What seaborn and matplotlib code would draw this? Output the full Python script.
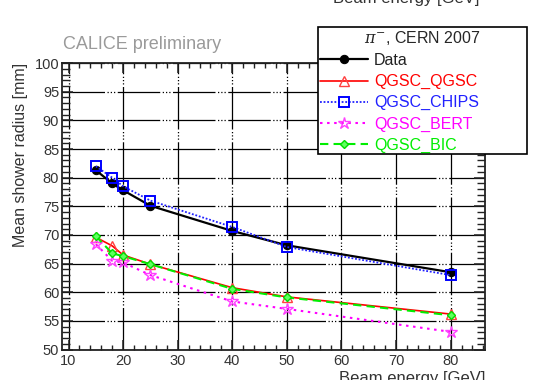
import matplotlib
matplotlib.use("Agg")
import matplotlib.pyplot as plt
from matplotlib.ticker import MultipleLocator
import numpy as np
import pandas as pd
import seaborn as sns

# Beam energies [GeV] and mean shower radius [mm] per sample
energy = [15, 18, 20, 25, 40, 50, 80]
data_radius = [81.3, 79.0, 77.8, 75.1, 70.7, 68.2, 63.5]
qgsc_qgsc = [69.6, 68.1, 66.5, 64.9, 60.8, 59.2, 56.2]
qgsc_chips = [82.0, 80.0, 78.5, 76.0, 71.4, 67.9, 63.0]
qgsc_bert = [68.4, 65.5, 65.2, 63.0, 58.4, 57.1, 53.1]
qgsc_bic = [69.8, 66.8, 66.3, 64.9, 60.6, 59.1, 56.0]

series_names = ["Data", "QGSC_QGSC", "QGSC_CHIPS", "QGSC_BERT", "QGSC_BIC"]
series_values = [data_radius, qgsc_qgsc, qgsc_chips, qgsc_bert, qgsc_bic]

df = pd.DataFrame({
    "energy": np.tile(energy, len(series_names)),
    "radius": np.concatenate(series_values),
    "sample": np.repeat(series_names, len(energy)),
})

sns.set_style("ticks")
plt.rcParams["font.family"] = ["Liberation Sans", "DejaVu Sans"]
plt.rcParams["mathtext.fontset"] = "dejavuserif"

styles = {
    "Data": dict(color="black", linestyle="-", lw=1.6, marker="o", ms=6,
                 mfc="black", mec="black"),
    "QGSC_QGSC": dict(color="#ff0000", linestyle="-", lw=1.2, marker="^", ms=7,
                      mfc="none", mec="#ff4040", mew=1.0),
    "QGSC_CHIPS": dict(color="#2020ff", linestyle=(0, (1, 1)), lw=1.3, marker="s",
                       ms=7, mfc="none", mec="#0000ff", mew=1.4),
    "QGSC_BERT": dict(color="#ff00ff", linestyle=(0, (1.2, 2.2)), lw=1.5, marker="*",
                      ms=9, mfc="none", mec="#ff40ff", mew=1.0),
    "QGSC_BIC": dict(color="#00ee00", linestyle=(0, (4, 2.5)), lw=1.5, marker="D",
                     ms=4.5, mfc="#60ff60", mec="#00dd00", mew=1.0),
}

fig = plt.figure(figsize=(5.33, 3.8), dpi=100)
ax = fig.add_axes([0.1163, 0.080, 0.7937, 0.754])

for name in series_names:
    sub = df[df["sample"] == name]
    sns.lineplot(data=sub, x="energy", y="radius", ax=ax, label=name,
                 estimator=None, sort=False, **styles[name])

ax.set_xlim(8.8, 86.3)
ax.set_ylim(50, 100)
ax.xaxis.set_major_locator(MultipleLocator(10))
ax.xaxis.set_minor_locator(MultipleLocator(2))
ax.yaxis.set_major_locator(MultipleLocator(5))
ax.yaxis.set_minor_locator(MultipleLocator(1))

grid_style = (0, (34, 2, 1, 1.6, 1, 1.6, 1, 2))
ax.grid(True, which="major", color="black", lw=0.9, linestyle=grid_style)
ax.set_axisbelow(True)

for side in ["left", "right", "top", "bottom"]:
    ax.spines[side].set_visible(True)
    ax.spines[side].set_linewidth(1.3)
    ax.spines[side].set_color("#222222")

ax.tick_params(axis="both", which="both", direction="in", top=True, right=True,
               colors="#222222", labelcolor="#333333", labelsize=10.5)
ax.tick_params(axis="x", which="major", length=7, width=1.1, pad=3)
ax.tick_params(axis="x", which="minor", length=3.5, width=1.0)
ax.tick_params(axis="y", which="major", length=8, width=1.1, pad=2)
ax.tick_params(axis="y", which="minor", length=5.5, width=1.0)

ax.set_xlabel("Beam energy [GeV]", loc="right", fontsize=12, color="#333333",
              labelpad=2)
ax.set_ylabel("Mean shower radius [mm]", loc="top", fontsize=11.5, color="#333333",
              labelpad=5)

fig.text(0.118, 0.884, "CALICE preliminary", fontsize=13, color="#9a9a9a",
         ha="left", va="center")
fig.text(0.90, 1.005, "Beam energy [GeV]", fontsize=12, color="#333333",
         ha="right", va="center")

handles, labels = ax.get_legend_handles_labels()
ax.get_legend().remove()
leg = fig.legend(handles, labels, loc="upper left", mode="expand",
                 bbox_to_anchor=(0.597, 0.605, 0.392, 0.323),
                 bbox_transform=fig.transFigure,
                 title=r"$\pi^{-}$, CERN 2007", title_fontsize=11.5, fontsize=11.5,
                 labelcolor="linecolor", handlelength=3.0, handletextpad=0.4,
                 labelspacing=0.38, borderpad=0.1, borderaxespad=0,
                 fancybox=False, framealpha=1, edgecolor="black",
                 alignment="center")
leg.get_frame().set_linewidth(1.2)
for text in leg.get_texts():
    if text.get_text() == "Data":
        text.set_color("#222222")

fig.savefig("out.png", dpi=100)
